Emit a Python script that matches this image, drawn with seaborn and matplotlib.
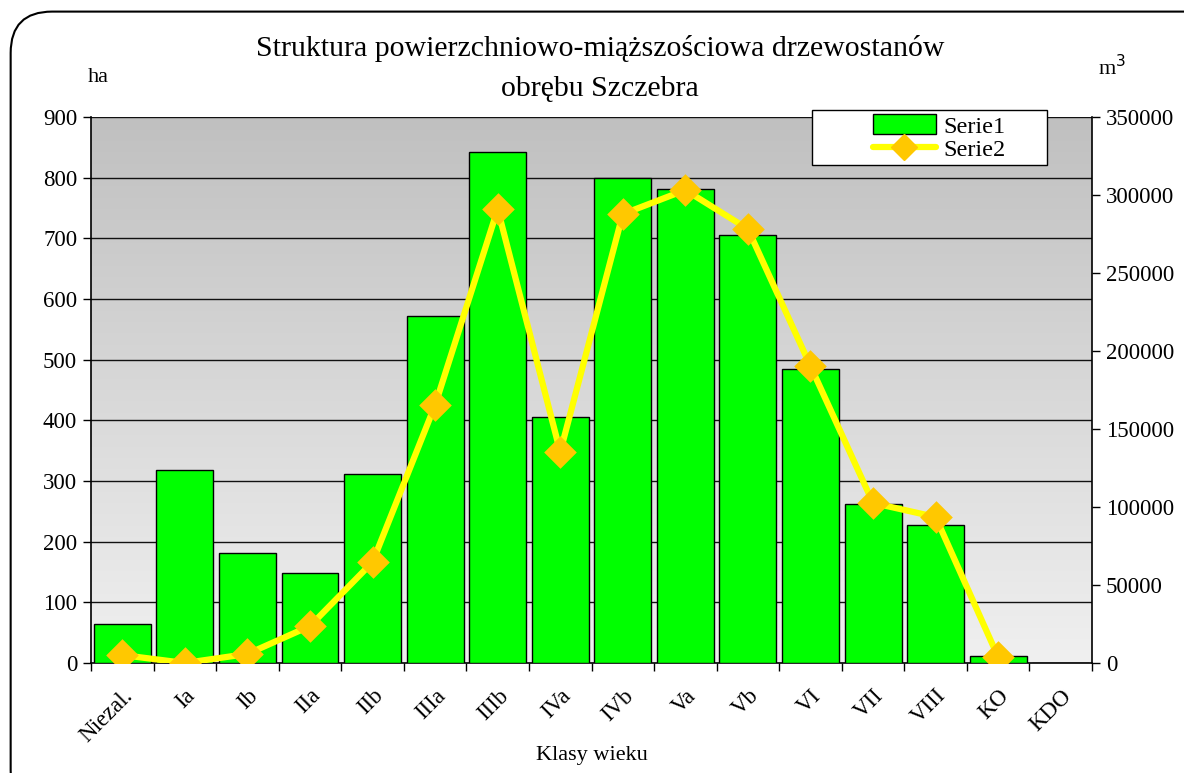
import numpy as np
import pandas as pd
import matplotlib
matplotlib.use("Agg")
import matplotlib.pyplot as plt
from matplotlib.patches import FancyBboxPatch, Rectangle, Patch
from matplotlib.lines import Line2D
import seaborn as sns

klasy = ["Niezal.", "Ia", "Ib", "IIa", "IIb", "IIIa", "IIIb", "IVa",
         "IVb", "Va", "Vb", "VI", "VII", "VIII", "KO", "KDO"]
powierzchnia = [64, 318, 181, 148, 312, 572, 842, 405,
                800, 781, 705, 485, 262, 227, 12, 0]
miazszosc = [5100, 0, 5800, 23700, 64700, 165400, 291000, 135300,
             287800, 303200, 278200, 190400, 102600, 93600, 3800, np.nan]

df = pd.DataFrame({"klasa": klasy, "pow": powierzchnia, "miaz": miazszosc})

sns.set_style("white")
plt.rcParams["font.family"] = ["Liberation Serif", "DejaVu Serif"]
plt.rcParams["text.color"] = "black"

fig = plt.figure(figsize=(11.84, 7.73), dpi=100)
ax = fig.add_axes([0.0769, 0.1423, 0.8454, 0.7063])

# gradient tla
grad = np.linspace(0, 1, 256).reshape(-1, 1)
ax.imshow(grad, cmap=matplotlib.colors.LinearSegmentedColormap.from_list(
    "g", ["#c0c0c0", "#f0f0f0"]), aspect="auto", extent=[0, 1, 0, 1],
    transform=ax.transAxes, zorder=0)

sns.barplot(data=df, x="klasa", y="pow", order=klasy, color="#00ff00",
            saturation=1, width=0.91, edgecolor="black", linewidth=1,
            ax=ax, zorder=3)
ax.set_ylim(0, 900)
ax.set_yticks(range(0, 901, 100))
ax.set_xlim(-0.5, len(klasy) - 0.5)
for y in range(100, 901, 100):
    ax.axhline(y, color="#111111", lw=1, zorder=1)

ax2 = ax.twinx()
sns.pointplot(data=df, x="klasa", y="miaz", order=klasy, color="#ffff00",
              markers="D", linestyles="-", ax=ax2, markersize=13,
              linewidth=4.5, markerfacecolor="#ffc800",
              markeredgecolor="#ffc800")
ax2.set_ylim(0, 350000)
ax2.set_yticks(range(0, 350001, 50000))
ax2.set_xlim(-0.5, len(klasy) - 0.5)

for a in (ax, ax2):
    for s in a.spines.values():
        s.set_visible(False)
ax.spines["left"].set_visible(True)
ax.spines["bottom"].set_visible(True)
ax2.spines["right"].set_visible(True)
for s in ("left", "bottom"):
    ax.spines[s].set_color("black")
    ax.spines[s].set_linewidth(1.2)
ax2.spines["right"].set_color("black")
ax2.spines["right"].set_linewidth(1.2)

ax.set_xlabel("Klasy wieku", fontsize=16, labelpad=0, color="black")
ax.set_ylabel("")
ax2.set_ylabel("")
ax2.set_xlabel("")

ax.set_xticks(range(len(klasy)))
ax.set_xticklabels(klasy, rotation=45, ha="right", rotation_mode="anchor",
                   fontsize=16.5)
ax.set_xticks(np.arange(-0.5, len(klasy)), minor=True)
ax.tick_params(axis="x", which="major", length=0, pad=16, labelcolor="black")
ax.tick_params(axis="x", which="minor", length=6, width=1, color="black",
               direction="out", bottom=True)
ax.tick_params(axis="y", length=6, width=1, color="black", direction="out",
               left=True, labelsize=16.5, pad=4, labelcolor="black")
ax2.tick_params(axis="y", length=6, width=1, color="black", direction="out",
                right=True, labelsize=16.5, pad=4, labelcolor="black")
ax2.tick_params(axis="x", which="both", length=0, labelbottom=False)

fig.text(0.507, 0.937, "Struktura powierzchniowo-miąższościowa drzewostanów",
         ha="center", va="center", fontsize=21.5)
fig.text(0.507, 0.885, "obrębu Szczebra", ha="center", va="center",
         fontsize=21.5)
fig.text(0.074, 0.9, "ha", ha="left", va="center", fontsize=16)
fig.text(0.927, 0.912, "m$^3$", ha="left", va="center", fontsize=16)

# legenda: ramka osobno, wpisy w srodku
fig.patches.append(Rectangle((0.686, 0.7865), 0.1985, 0.0712,
                             transform=fig.transFigure, facecolor="white",
                             edgecolor="black", lw=1, zorder=5))
uchwyty = [Patch(facecolor="#00ff00", edgecolor="black", label="Serie1"),
           Line2D([0], [0], color="#ffff00", lw=4.5, marker="D",
                  markersize=13, markerfacecolor="#ffc800",
                  markeredgecolor="#ffc800", label="Serie2")]
leg = fig.legend(handles=uchwyty, loc="center left",
                 bbox_to_anchor=(0.737, 0.822), frameon=False,
                 fontsize=17.5, borderpad=0, handlelength=2.6,
                 handleheight=0.85, labelspacing=0.0, handletextpad=0.3,
                 borderaxespad=0)
leg.set_zorder(6)

ramka = FancyBboxPatch((0.009, -0.05), 1.05, 1.035,
                       boxstyle="round,pad=0,rounding_size=0.035",
                       transform=fig.transFigure, fill=False,
                       edgecolor="black", lw=1.5, mutation_aspect=1.53)
fig.patches.append(ramka)

fig.savefig("out.png", dpi=100)
